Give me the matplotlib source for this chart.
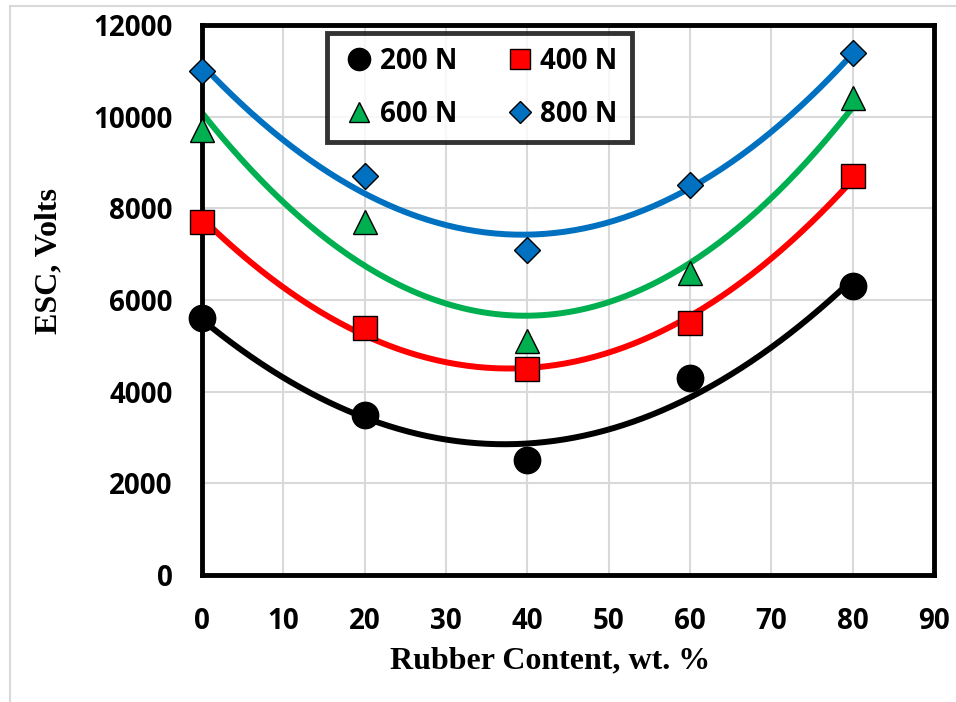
import numpy as np
import matplotlib.pyplot as plt
from matplotlib.lines import Line2D

# rubber content (wt. %) and ESC values
rubber = [0, 20, 40, 60, 80]
esc_200 = [5600, 3500, 2500, 4300, 6300]
esc_400 = [7700, 5400, 4500, 5500, 8700]
esc_600 = [9700, 7700, 5100, 6600, 10400]
esc_800 = [11000, 8700, 7100, 8500, 11400]

labels = ['200 N', '400 N', '600 N', '800 N']
colors = ['#000000', '#ff0000', '#00b050', '#0070c0']
markers = ['o', 's', '^', 'D']
msizes = [19, 17, 17, 13]
leg_sizes = [16, 15, 15, 11]

W, H = 956, 702
fig = plt.figure(figsize=(W / 100, H / 100), dpi=100)
ax = fig.add_axes([202 / W, 1 - 575 / H, (934 - 202) / W, (575 - 25) / H])

# light gray outer border of the chart area (left and top edges visible)
fig.add_artist(Line2D([10 / W, 10 / W], [0, 1 - 6 / H], color='#d9d9d9', lw=1.5))
fig.add_artist(Line2D([10 / W, 1], [1 - 6 / H, 1 - 6 / H], color='#d9d9d9', lw=1.5))

xs = np.linspace(0, 80, 200)
series = [esc_200, esc_400, esc_600, esc_800]
handles = []
for ys, lab, c, m, ms, ls in zip(series, labels, colors, markers, msizes, leg_sizes):
    # second order trendline, as in the original spreadsheet chart
    coef = np.polyfit(rubber, ys, 2)
    ax.plot(xs, np.polyval(coef, xs), color=c, lw=4.3, zorder=2)
    ax.plot(rubber, ys, linestyle='none', marker=m, markersize=ms,
            markerfacecolor=c, markeredgecolor='black', markeredgewidth=1.0, zorder=3,
            clip_on=False)
    handles.append(Line2D([], [], linestyle='none', marker=m, markersize=ls,
                          markerfacecolor=c, markeredgecolor='black', markeredgewidth=1.0))

ax.set_xlim(0, 90)
ax.set_ylim(0, 12000)
ax.set_xticks(range(0, 91, 10))
ax.set_yticks(range(0, 12001, 2000))
ax.grid(True, color='#d9d9d9', lw=1.5)
ax.set_axisbelow(True)
ax.tick_params(axis='y', length=0, pad=21)
ax.tick_params(axis='x', length=0, pad=23)
for t in ax.get_xticklabels() + ax.get_yticklabels():
    t.set_fontfamily('Open Sans')
    t.set_fontweight('bold')
    t.set_fontsize(20)

for s in ax.spines.values():
    s.set_color('black')
    s.set_linewidth(3.5)
# the left/bottom axis lines look like a double line (black with a gray core)
ax.axvline(0, color='#9a9a9a', lw=1.2, zorder=2.5, clip_on=False)
ax.axhline(0, color='#9a9a9a', lw=1.2, zorder=2.5, clip_on=False)

fig.text(550 / W, 1 - 661 / H, 'Rubber Content, wt. %', family='Liberation Serif',
         weight='bold', size=23, ha='center', va='center')
fig.text(49 / W, 1 - 261 / H, 'ESC, Volts', family='Liberation Serif',
         weight='bold', size=23, ha='center', va='center', rotation=90)

# legend is filled column-wise, so order handles to read row-wise
order = [0, 2, 1, 3]
leg = fig.legend([handles[i] for i in order], [labels[i] for i in order], ncol=2,
                 loc='upper left', bbox_to_anchor=(327 / W, 1 - 33 / H),
                 prop={'family': 'Open Sans', 'weight': 'bold', 'size': 20},
                 frameon=True, fancybox=False, handletextpad=0.1, columnspacing=1.6,
                 labelspacing=0.85, borderpad=0.5, borderaxespad=0, handlelength=1.3)
leg.get_frame().set_edgecolor('black')
leg.get_frame().set_linewidth(3.5)

fig.savefig('out.png', dpi=100)
